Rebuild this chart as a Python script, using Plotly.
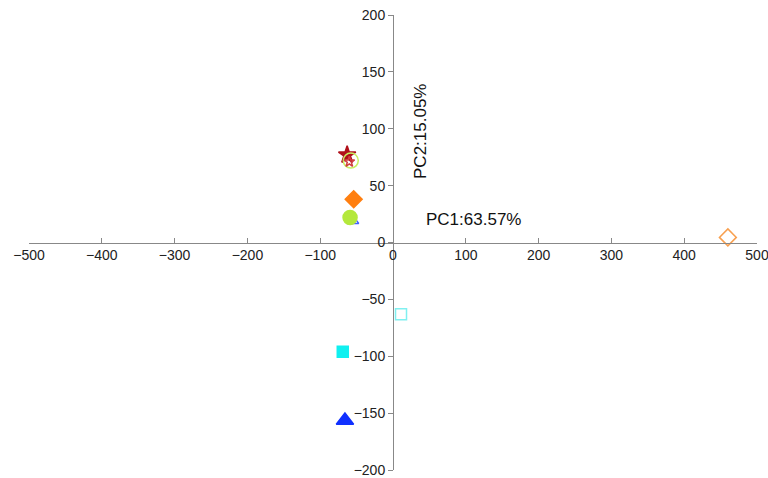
import plotly.graph_objects as go

names = ["S1", "S2", "S3", "S4", "S5", "S6", "S7", "S8", "S9", "S10"]
pc1 = [-63, -58, -60, -54, -55, -59, 11, -69, -66, 460]
pc2 = [77, 72, 71, 38, 19, 22, -63, -96, -156.5, 4.5]
symbols = ["star", "circle-open", "star-open", "diamond", "triangle-up-open", "circle",
           "square-open", "square", "triangle-up", "diamond-open"]
colors = ["#b0101a", "#c8f060", "#d04040", "#ff7f10", "#4060ff", "#b4e83c",
          "#80f0f0", "#10f0f0", "#1030ff", "#f8a050"]
sizes = [13, 15, 8, 13, 10, 14, 11, 11, 15, 13]

x_ticks = [-500, -400, -300, -200, -100, 0, 100, 200, 300, 400, 500]
y_ticks = [-200, -150, -100, -50, 0, 50, 100, 150, 200]

fig = go.Figure()
for n, x, y, s, c, sz in zip(names, pc1, pc2, symbols, colors, sizes):
    fig.add_trace(go.Scatter(
        x=[x], y=[y], mode="markers", name=n,
        marker=dict(symbol=s, color=c, size=sz, line=dict(color=c, width=1.5)),
    ))

fig.add_annotation(x=110, y=20, text="PC1:63.57%", showarrow=False,
                   font=dict(size=17, color="#111"), xref="x", yref="y")
fig.add_annotation(x=37, y=98, text="PC2:15.05%", showarrow=False, textangle=-90,
                   font=dict(size=17, color="#111"), xref="x", yref="y")

fig.update_layout(
    width=768, height=478,
    margin=dict(l=29, r=11, t=15, b=8),
    paper_bgcolor="white", plot_bgcolor="white",
    showlegend=False,
    font=dict(family="Liberation Sans, Arial, sans-serif", size=14, color="#222"),
    xaxis=dict(range=[-500, 500], tickvals=x_ticks, ticks="inside", ticklen=5,
               tickcolor="#888", showline=True, linecolor="#888", linewidth=1,
               showgrid=False, zeroline=False, anchor="free", position=0.5,
               side="bottom", automargin=False, ticklabeloverflow="allow"),
    yaxis=dict(range=[-200, 200], tickvals=y_ticks, ticks="outside", ticklen=5,
               tickcolor="#888", showline=True, linecolor="#888", linewidth=1,
               showgrid=False, zeroline=False, anchor="free", position=0.5,
               side="left", automargin=False, ticklabeloverflow="allow"),
)

fig.write_html("out.html",
               config={"displayModeBar": False},
               post_script="document.body.style.margin='0';document.body.style.overflow='hidden';")
